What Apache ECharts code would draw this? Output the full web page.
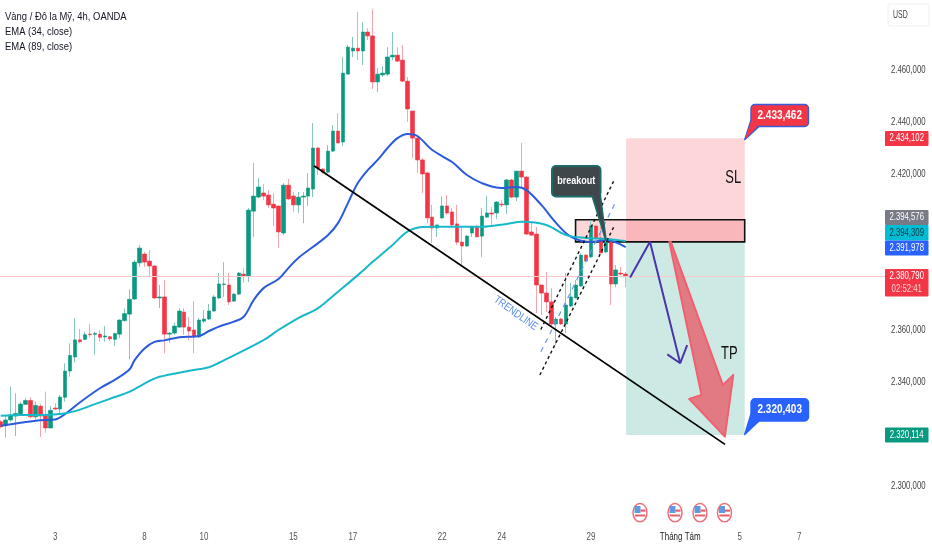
<!DOCTYPE html>
<html><head><meta charset="utf-8">
<style>html,body{margin:0;padding:0;background:#fff}#c{width:932px;height:550px}</style>
<script src="https://cdn.jsdelivr.net/npm/echarts@6/dist/echarts.min.js"></script>
</head><body><div id="c"></div>
<script>
const opens=[2324.9,2323.4,2325.6,2327.1,2327.9,2331.6,2333.1,2326.8,2330.9,2327.4,2322.5,2330.2,2329.8,2334.3,2344.4,2349.8,2356.4,2356.6,2358.6,2358.5,2358.6,2357.5,2357.6,2356.6,2358.6,2363.8,2366.3,2372.1,2386.0,2389.4,2386.7,2384.8,2372.5,2372.9,2358.6,2359.0,2361.3,2367.1,2361.3,2360.2,2357.5,2363.6,2364.4,2367.5,2372.5,2377.7,2377.5,2371.3,2374.0,2381.7,2381.0,2405.9,2411.3,2412.9,2412.1,2408.6,2407.9,2397.5,2415.9,2411.7,2408.3,2411.3,2411.7,2414.4,2430.2,2422.1,2420.9,2429.0,2436.7,2432.5,2458.6,2467.5,2468.6,2467.5,2474.8,2473.3,2455.6,2458.3,2458.6,2465.2,2465.9,2464.0,2455.9,2444.4,2434.0,2425.6,2420.6,2403.6,2399.4,2403.3,2407.9,2405.6,2401.0,2394.0,2392.5,2397.5,2399.8,2396.3,2403.6,2405.2,2405.2,2408.6,2408.3,2417.9,2411.3,2421.3,2419.0,2397.9,2397.1,2377.5,2374.4,2371.0,2362.5,2364.4,2362.5,2369.4,2372.5,2377.1,2389.0,2388.3,2400.2,2395.6,2390.2,2394.0,2377.9,2382.1,2381.7];
const closes=[2323.0,2325.6,2327.5,2328.1,2331.7,2333.1,2326.8,2331.2,2327.1,2322.5,2329.3,2329.8,2334.4,2344.4,2350.4,2356.4,2355.7,2358.4,2358.4,2358.9,2357.4,2357.9,2356.8,2358.8,2364.0,2366.5,2372.0,2386.3,2391.7,2386.3,2384.8,2372.5,2372.9,2358.6,2359.0,2361.7,2367.5,2361.3,2359.8,2357.5,2364.0,2364.4,2367.5,2372.9,2377.9,2377.9,2371.0,2374.0,2382.1,2381.0,2406.3,2411.7,2415.2,2411.7,2408.3,2407.1,2397.9,2415.9,2410.6,2408.3,2411.3,2411.7,2414.8,2430.2,2422.5,2420.9,2429.0,2436.7,2432.1,2459.0,2469.0,2468.6,2467.5,2474.8,2473.3,2455.6,2458.6,2459.0,2465.2,2465.9,2463.6,2455.9,2445.2,2434.0,2425.6,2420.2,2403.3,2399.4,2400.6,2407.9,2405.2,2400.6,2394.0,2392.5,2396.3,2399.8,2396.0,2404.0,2405.2,2404.8,2409.4,2408.3,2417.9,2411.3,2421.3,2419.0,2397.1,2396.7,2377.5,2374.4,2371.0,2362.5,2364.4,2362.5,2369.8,2372.9,2377.5,2389.0,2386.7,2400.2,2395.6,2389.8,2394.0,2377.9,2383.3,2381.7,2380.8];
const lows=[2322.4,2318.9,2324.9,2319.4,2327.5,2331.3,2326.2,2325.8,2319.1,2320.7,2322.4,2329.4,2328.1,2332.6,2342.2,2347.6,2355.1,2356.3,2357.4,2350.6,2355.7,2355.7,2356.0,2354.0,2357.0,2363.4,2348.9,2371.7,2384.4,2384.4,2380.6,2372.1,2368.6,2351.3,2355.2,2358.3,2361.0,2358.3,2356.3,2351.3,2357.1,2362.9,2364.0,2367.1,2372.1,2372.9,2369.8,2371.0,2373.6,2378.3,2378.6,2396.0,2410.9,2410.2,2407.1,2400.2,2391.7,2396.7,2410.2,2405.6,2405.2,2401.3,2407.9,2411.3,2419.8,2420.2,2420.6,2428.6,2432.1,2430.9,2458.6,2465.2,2464.0,2462.1,2471.7,2452.9,2451.7,2457.5,2457.9,2464.0,2463.3,2455.6,2440.2,2426.3,2420.6,2412.9,2401.3,2393.6,2396.0,2402.9,2404.4,2399.8,2392.9,2385.2,2392.1,2396.0,2396.0,2388.3,2403.3,2399.8,2402.9,2407.5,2404.8,2410.9,2409.8,2415.2,2396.7,2396.3,2366.7,2366.0,2367.1,2361.3,2354.4,2362.1,2359.0,2369.0,2372.5,2376.7,2386.3,2387.9,2395.2,2389.8,2389.8,2369.8,2376.7,2381.3,2376.7];
const highs=[2325.6,2327.5,2338.4,2335.8,2332.6,2333.9,2334.3,2332.6,2331.7,2336.5,2330.9,2332.0,2335.2,2347.4,2355.1,2364.7,2360.6,2359.5,2362.5,2359.5,2360.2,2361.7,2357.9,2359.1,2364.3,2368.5,2375.8,2387.1,2392.9,2390.2,2391.0,2385.2,2377.5,2379.4,2359.4,2362.9,2368.6,2368.6,2365.2,2371.3,2364.8,2367.9,2370.2,2373.6,2382.1,2386.3,2382.1,2374.4,2382.5,2384.0,2407.1,2424.4,2418.6,2416.3,2414.0,2412.9,2407.9,2416.7,2418.3,2413.3,2413.3,2413.3,2420.6,2439.8,2430.6,2422.5,2431.3,2439.0,2443.6,2465.2,2469.8,2472.9,2482.5,2478.6,2476.3,2483.6,2460.9,2461.7,2469.0,2474.8,2469.0,2469.8,2457.5,2444.4,2435.2,2426.3,2421.0,2408.3,2400.6,2411.7,2412.1,2407.1,2408.3,2399.8,2396.7,2399.8,2400.6,2407.1,2411.7,2407.5,2409.8,2410.2,2418.3,2418.3,2421.3,2432.1,2419.4,2401.3,2399.8,2377.5,2382.5,2376.3,2365.2,2364.8,2382.1,2378.3,2379.4,2389.8,2389.4,2402.5,2400.6,2399.8,2396.0,2394.4,2385.2,2384.4,2382.5];
// EMA readings: [bar number, price]
const ema34=[[0,2323.4],[4,2324.5],[8,2325.5],[11,2325.8],[13,2327.9],[16,2332.4],[20,2337.8],[23,2341.0],[26,2345.1],[27,2348.6],[29,2353.1],[31,2355.6],[33,2356.2],[36,2357.4],[40,2357.9],[42,2359.8],[44,2361.5],[47,2363.4],[49,2365.3],[51,2371.7],[53,2376.3],[56,2379.8],[58,2384.0],[60,2387.9],[63,2392.2],[66,2396.7],[68,2401.3],[70,2409.0],[72,2416.7],[74,2421.7],[76,2425.6],[78,2430.2],[80,2434.0],[82,2435.6],[84,2434.8],[87,2429.4],[91,2424.8],[94,2419.8],[97,2416.7],[101,2414.8],[104,2415.2],[106,2414.0],[109,2408.3],[112,2401.3],[115,2396.0],[119,2394.0],[122,2394.8],[126,2392.1]];
const ema89=[[0,2327.2],[4,2327.5],[8,2327.5],[12,2327.9],[15,2329.0],[19,2331.7],[23,2334.4],[26,2336.5],[30,2340.6],[32,2342.2],[38,2344.5],[42,2345.9],[44,2347.6],[53,2356.3],[56,2360.2],[60,2364.8],[64,2368.6],[68,2374.9],[72,2381.3],[75,2386.4],[79,2392.9],[82,2398.0],[85,2399.8],[87,2399.9],[91,2399.9],[97,2399.9],[102,2401.0],[105,2401.8],[110,2400.6],[114,2396.7],[118,2395.6],[122,2395.2],[126,2394.4]];
const barCount=179;
const priceTicks=[2460,2440,2420,2360,2340,2300];
const timeTicks=[[11,'3'],[29,'8'],[41,'10'],[59,'15'],[71,'17'],[89,'22'],[101,'24'],[119,'29'],[137,'Tháng Tám'],[149,'5'],[161,'7']];
const lastPrice=2380.79;
const legendLines=['Vàng / Đô la Mỹ, 4h, OANDA','EMA (34, close)','EMA (89, close)'];
// drawings: [bar position, price]
const trendLine=[[63.66,2423.4],[146.53,2316.2]];
const channelUpper=[[109.4,2360.4],[124.2,2417.9]];
const channelLower=[[109.2,2342.9],[124.2,2400.2]];
const channelMid=[[109.4,2351.8],[124.6,2409.9]];
const purplePath=[[127.4,2380.4],[131.4,2394.1],[137.5,2347.4],[134.9,2350.8],[137.5,2347.4],[138.9,2354.4]];
const redArrow=[[135.3,2394.1],[141.8,2335.2],[139.3,2333.7],[146.5,2319.2],[148.2,2342.9],[146.1,2339.0],[135.6,2394.1]];
const slZone=[126.6,150.5,2433.9,2394.1];
const tpZone=[126.6,150.5,2394.1,2319.8];
const entryBox=[116.4,150.5,2402.6,2394.1];
const noteSL={pos:[150.5,2433.4],text:'2.433,462',color:'#f23645'};
const noteTP={pos:[150.5,2320.0],text:'2.320,403',color:'#2962ff'};
const breakoutTip=[122.5,2394.8];
const axisTags=[
 {t:'2.434,102',c:'#f23645',tc:'#fff',y:131,h:15},
 {t:'2.394,576',c:'#787b86',tc:'#fff',y:210,h:15},
 {t:'2.394,309',c:'#00bcd4',tc:'#0b3a40',y:225,h:15.5},
 {t:'2.391,978',c:'#2962ff',tc:'#fff',y:240.5,h:15},
 {t:'2.380,790',c:'#f23645',tc:'#fff',y:269,h:14,sub:'02:52:41'},
 {t:'2.320,114',c:'#089981',tc:'#fff',y:427.5,h:15}];
const flagX=[640,675,700,724.5];

const SANS="'Liberation Sans',Arial,sans-serif";
const cats=opens.map((_,i)=>i);
while(cats.length<barCount)cats.push(cats.length);
const wicks=opens.map((o,i)=>[o,closes[i],lows[i],highs[i]]);
const bodies=opens.map((o,i)=>[o,closes[i],Math.min(o,closes[i]),Math.max(o,closes[i])]);
const center=a=>a.map(p=>[p[0]+0.5,p[1]]);

function lineS(data,color,width,type,z,smooth){
 return {type:'line',xAxisIndex:1,yAxisIndex:0,data,symbol:'none',silent:true,smooth:smooth||false,z,
  lineStyle:{color,width,type:type||'solid'},animation:false,clip:false};
}
function zoneS(b,fill,stroke,z){
 return {type:'custom',xAxisIndex:1,yAxisIndex:0,z,silent:true,animation:false,clip:false,data:[b],
  encode:{x:[0,1],y:[2,3]},
  renderItem(p,api){
   const a=api.coord([api.value(0),api.value(2)]),c=api.coord([api.value(1),api.value(3)]);
   return {type:'rect',shape:{x:a[0],y:a[1],width:c[0]-a[0],height:c[1]-a[1]},
    style:{fill,stroke:stroke||null,lineWidth:stroke?1.6:0}};
  }};
}
const tickText=(x,y,text,fill,align,sx,fs)=>({type:'text',x,y,scaleX:sx,style:{text,x:0,y:0,fill,align,verticalAlign:'middle',font:fs+'px '+SANS}});
const option={
 backgroundColor:'#fff',animation:false,
 grid:{left:-1.78,top:-33.5,width:887.84,height:572,outerBoundsMode:'none',containLabel:false},
 xAxis:[
  {type:'category',data:cats,boundaryGap:true,axisLine:{show:false},axisTick:{show:false},splitLine:{show:false},axisLabel:{show:false}},
  {type:'value',min:0,max:barCount,show:false}
 ],
 yAxis:[{type:'value',position:'right',min:2280,max:2500,interval:20,
  axisLine:{show:false},axisTick:{show:false},splitLine:{show:false},axisLabel:{show:false}}],
 series:[
  zoneS(slZone,'#fcd6d9',null,1),
  zoneS(tpZone,'#cde9e3',null,1),
  zoneS(entryBox,'rgba(242,54,69,0.2)','#111',1),
  {type:'candlestick',xAxisIndex:0,yAxisIndex:0,barWidth:1,data:wicks,z:3,silent:true,animation:false,
   itemStyle:{color:'#86c9bc',color0:'#f7a4ab',borderColor:'#86c9bc',borderColor0:'#f7a4ab',borderWidth:1},
   markLine:{silent:true,symbol:'none',label:{show:false},animation:false,
    lineStyle:{color:'#fbc8cc',width:1,type:'solid'},data:[{yAxis:lastPrice}]}},
  {type:'candlestick',xAxisIndex:0,yAxisIndex:0,barWidth:4,data:bodies,z:4,silent:true,animation:false,
   itemStyle:{color:'#089981',color0:'#f23645',borderColor:'#089981',borderColor0:'#f23645',borderWidth:0.6}},
  lineS(center(ema34),'#2b5bdc',2,'solid',5,0.35),
  lineS(center(ema89),'#17b9c9',2,'solid',5,0.35),
  lineS(trendLine,'#000',1.8,'solid',6),
  lineS(channelUpper,'#111',1.4,[3,3],6),
  lineS(channelLower,'#111',1.4,[3,3],6),
  lineS(channelMid,'#6f93e8',1.2,[5,5],6),
  lineS(purplePath,'#4a35ad',2,'solid',7),
  {type:'custom',xAxisIndex:1,yAxisIndex:0,z:7,silent:true,animation:false,clip:false,data:[[0,0]],
   renderItem(p,api){
    return {type:'polygon',shape:{points:redArrow.map(q=>api.coord(q))},
     style:{fill:'rgba(235,70,85,0.68)',stroke:'#f06070',lineWidth:2,lineJoin:'round'}};
   }},
  {type:'custom',xAxisIndex:1,yAxisIndex:0,z:8,silent:true,animation:false,clip:false,data:[[0,0]],
   renderItem(p,api){
    const ch=[];
    const callout=(x,y,w,h,tip,base,fill,stroke,text,fs,lw,sx)=>{
     ch.push({type:'polygon',shape:{points:[base[0],tip,base[1]]},style:{fill,stroke,lineWidth:lw,lineJoin:'round'}});
     ch.push({type:'rect',shape:{x,y,width:w,height:h,r:4},style:{fill,stroke,lineWidth:lw}});
     ch.push({type:'polygon',shape:{points:[[base[0][0]+1,base[0][1]-1.5],tip,[base[1][0]-1,base[1][1]-1.5]]},style:{fill}});
     ch.push({type:'text',x:x+w/2,y:y+h/2,scaleX:sx,style:{text,x:0,y:0,align:'center',verticalAlign:'middle',fill:'#fff',font:'bold '+fs+'px '+SANS}});
    };
    callout(751,104.5,57.5,22,api.coord(noteSL.pos),[[751,120],[759,126.5]],noteSL.color,'#3b5bd9',noteSL.text,12.5,1.4,0.8);
    callout(751,398.7,57.5,22.3,api.coord(noteTP.pos),[[751,414],[759,421]],noteTP.color,'#2962ff',noteTP.text,12.5,1.4,0.8);
    callout(552,166,48.5,30.5,api.coord(breakoutTip),[[592.5,196.5],[600,194]],'#3f474b','#1d6a68','breakout',11,2,0.82);
    return {type:'group',children:ch};
   }},
  // tick labels, positioned by the axes, condensed as in the reference
  {type:'custom',xAxisIndex:1,yAxisIndex:0,z:9,silent:true,animation:false,clip:false,data:[[0,0]],
   renderItem(p,api){
    const right=api.coord([barCount,2300])[0]+39.5;
    const ch=priceTicks.map(v=>tickText(right,api.coord([0,v])[1],'2.'+String(v).slice(1)+',000','#444','right',0.74,10.5));
    const y=api.coord([0,2280])[1]-1;
    timeTicks.forEach(t=>ch.push(tickText(api.coord([t[0]+0.5,0])[0],y,t[1],t[1].length>2?'#222':'#555','center',0.76,10.5)));
    return {type:'group',children:ch};
   }}
 ],
 graphic:{elements:[
  ...legendLines.map((t,i)=>({type:'text',x:5,y:10.5+i*15.3,scaleX:0.82,silent:true,style:{text:t,fill:'#131722',font:'11.5px '+SANS}})),
  {type:'rect',shape:{x:888,y:4,width:41,height:22,r:2},silent:true,style:{fill:'#fff',stroke:'#f0f0f2',lineWidth:1}},
  {type:'text',x:893,y:9.5,scaleX:0.66,silent:true,style:{text:'USD',fill:'#444',font:'10.5px '+SANS}},
  ...axisTags.flatMap(g=>{
   const h=g.sub?27.5:g.h, a=[
    {type:'rect',shape:{x:885,y:g.y,width:43.5,height:h,r:1},z:20,silent:true,style:{fill:g.c}},
    {type:'text',x:906.7,y:g.y+(g.sub?7.5:h/2),scaleX:0.74,z:21,silent:true,style:{text:g.t,fill:g.tc,x:0,y:0,align:'center',verticalAlign:'middle',font:'10.5px '+SANS}}];
   if(g.sub)a.push({type:'text',x:906.7,y:g.y+20.5,scaleX:0.74,z:21,silent:true,style:{text:g.sub,fill:'#ffd0d4',x:0,y:0,align:'center',verticalAlign:'middle',font:'10.5px '+SANS}});
   return a;}),
  {type:'text',x:733.3,y:178.5,scaleX:0.72,z:21,silent:true,style:{text:'SL',fill:'#111',x:0,y:0,align:'center',verticalAlign:'middle',font:'18px '+SANS}},
  {type:'text',x:729.3,y:354,scaleX:0.72,z:21,silent:true,style:{text:'TP',fill:'#111',x:0,y:0,align:'center',verticalAlign:'middle',font:'18px '+SANS}},
  {type:'text',x:515.7,y:313.3,rotation:-35.5*Math.PI/180,scaleX:0.82,z:21,silent:true,
   style:{text:'TRENDLINE',fill:'#5b8be8',x:0,y:0,align:'center',verticalAlign:'middle',font:'11px '+SANS}},
  ...flagX.flatMap(x=>[
   {type:'ellipse',shape:{cx:x,cy:512.7,rx:7,ry:9.2},silent:true,z:20,style:{fill:'#fff',stroke:'#ee6b77',lineWidth:1.4}},
   {type:'rect',shape:{x:x-5.5,y:506,width:6,height:7},silent:true,z:21,style:{fill:'#5e9be0'}},
   {type:'rect',shape:{x:x+0.5,y:509.5,width:5,height:2.2},silent:true,z:21,style:{fill:'#e8606c'}},
   {type:'rect',shape:{x:x-5.2,y:514.5,width:10.5,height:2},silent:true,z:21,style:{fill:'#e8606c'}}
  ])
 ]}
};
echarts.init(document.getElementById('c'),null,{renderer:'canvas'}).setOption(option);
</script></body></html>
